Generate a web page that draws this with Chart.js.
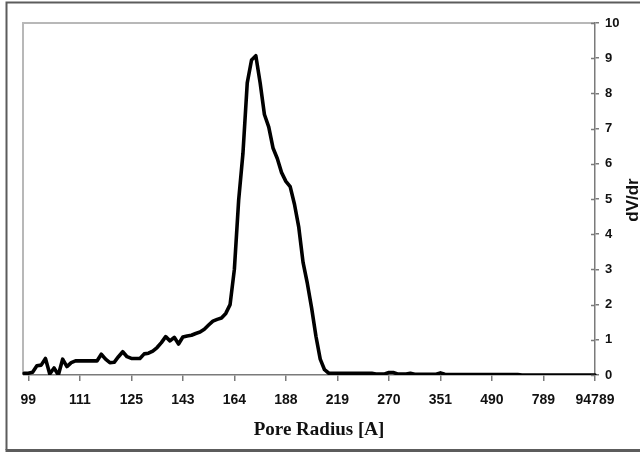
<!DOCTYPE html>
<html>
<head>
<meta charset="utf-8">
<script src="https://cdn.jsdelivr.net/npm/chart.js@4.4.1/dist/chart.umd.min.js"></script>
<style>
  html, body { margin: 0; padding: 0; background: #ffffff; }
  #wrap { width: 640px; height: 452px; position: relative; }
</style>
</head>
<body>
<div id="wrap"><canvas id="c" width="640" height="452"></canvas></div>
<script>
// Tick labels shown on the x axis (every 12th category, starting at index 1)
const tickLabels = ['99', '111', '125', '143', '164', '188', '219', '270', '351', '490', '789', '94789'];
const labelEvery = 12;
const labelStart = 1;

// dV/dr values, one per category (134 categories)
const dvdr = [
  0.05, 0.05, 0.08, 0.26, 0.28, 0.47, 0.03, 0.20, 0.00, 0.45,
  0.24, 0.35, 0.40, 0.40, 0.40, 0.40, 0.40, 0.40, 0.59, 0.45,
  0.35, 0.36, 0.52, 0.66, 0.52, 0.47, 0.47, 0.47, 0.60, 0.62,
  0.68, 0.78, 0.92, 1.09, 0.97, 1.07, 0.88, 1.08, 1.11, 1.13,
  1.18, 1.22, 1.30, 1.42, 1.53, 1.58, 1.62, 1.75, 2.00, 3.00,
  4.97, 6.30, 8.30, 8.95, 9.07, 8.30, 7.40, 7.05, 6.45, 6.15,
  5.75, 5.50, 5.35, 4.85, 4.20, 3.20, 2.60, 1.90, 1.10, 0.45,
  0.15, 0.05, 0.05, 0.05, 0.05, 0.05, 0.05, 0.05, 0.05, 0.05,
  0.05, 0.05, 0.03, 0.03, 0.03, 0.07, 0.07, 0.03, 0.03, 0.03,
  0.05, 0.02, 0.02, 0.02, 0.02, 0.02, 0.02, 0.06, 0.02, 0.01,
  0.01, 0.01, 0.01, 0.01, 0.01, 0.01, 0.01, 0.01, 0.01, 0.01,
  0.01, 0.01, 0.01, 0.01, 0.01, 0.01, 0.00, 0.00, 0.00, 0.00,
  0.00, 0.00, 0.00, 0.00, 0.00, 0.00, 0.00, 0.00, 0.00, 0.00,
  0.00, 0.00, 0.00, 0.00
];

// Category labels: only the labelled categories carry text
const categories = dvdr.map((_, i) =>
  (i - labelStart) % labelEvery === 0 ? tickLabels[(i - labelStart) / labelEvery] : '');

const yTitle = 'dV/dr';
const xTitle = 'Pore Radius [A]';

const sansFont = 'Arial, "Liberation Sans", sans-serif';
const serifFont = '"Times New Roman", "Liberation Serif", serif';
const axisGray = '#7a7a7a';

const decor = {
  id: 'decor',
  beforeDraw(chart) {
    const ctx = chart.ctx;
    const ca = chart.chartArea;
    ctx.save();
    ctx.fillStyle = '#ffffff';
    ctx.fillRect(0, 0, chart.width, chart.height);
    // outer frame
    ctx.strokeStyle = '#5c5c5c';
    ctx.lineWidth = 2;
    ctx.beginPath();
    ctx.moveTo(chart.width + 2, 2.5);
    ctx.lineTo(6.5, 2.5);
    ctx.lineTo(6.5, 450);
    ctx.stroke();
    ctx.lineWidth = 3;
    ctx.beginPath();
    ctx.moveTo(5.5, 450.5);
    ctx.lineTo(chart.width + 2, 450.5);
    ctx.stroke();
    // plot-area border (top and left)
    ctx.strokeStyle = '#b8b8b8';
    ctx.lineWidth = 2;
    ctx.beginPath();
    ctx.moveTo(ca.right, ca.top);
    ctx.lineTo(ca.left - 1, ca.top);
    ctx.lineTo(ca.left - 1, ca.bottom);
    ctx.stroke();
    ctx.restore();
  },
  afterDraw(chart) {
    const ctx = chart.ctx;
    const ys = chart.scales.y;
    const ca = chart.chartArea;
    ctx.save();
    // inward half of the y-axis tick marks
    ctx.strokeStyle = axisGray;
    ctx.lineWidth = 1.5;
    ys.ticks.forEach(t => {
      const py = Math.round(ys.getPixelForValue(t.value)) + 0.5;
      ctx.beginPath();
      ctx.moveTo(ca.right - 4, py);
      ctx.lineTo(ca.right, py);
      ctx.stroke();
    });
    // axis titles
    ctx.fillStyle = '#111111';
    ctx.font = 'bold 19px ' + serifFont;
    ctx.textAlign = 'center';
    ctx.textBaseline = 'middle';
    ctx.fillText(xTitle, 319, 430);
    ctx.translate(633, (ca.top + ca.bottom) / 2 + 1);
    ctx.rotate(-Math.PI / 2);
    ctx.font = 'bold 17px ' + sansFont;
    ctx.fillText(yTitle, 0, 0);
    ctx.restore();
  }
};

new Chart(document.getElementById('c'), {
  type: 'line',
  data: {
    labels: categories,
    datasets: [{
      data: dvdr,
      borderColor: '#000000',
      borderWidth: 3.6,
      pointRadius: 0,
      tension: 0,
      fill: false,
      borderJoinStyle: 'round',
      borderCapStyle: 'round'
    }]
  },
  options: {
    responsive: false,
    animation: false,
    devicePixelRatio: 1,
    layout: { padding: { left: 24, top: 23, right: 0, bottom: 0 } },
    plugins: { legend: { display: false }, tooltip: { enabled: false } },
    scales: {
      x: {
        type: 'category',
        offset: false,
        afterFit(scale) { scale.height = 77; },
        afterBuildTicks(scale) {
          scale.ticks = scale.ticks.filter(t => (t.value - labelStart) % labelEvery === 0);
        },
        grid: { display: true, drawOnChartArea: false, drawTicks: true, tickLength: 6, color: axisGray, lineWidth: 1.5 },
        border: { display: true, color: axisGray, width: 1.5 },
        ticks: {
          autoSkip: false,
          maxRotation: 0,
          minRotation: 0,
          padding: 11,
          color: '#111111',
          font: { family: sansFont, size: 14, weight: 'bold' }
        }
      },
      y: {
        position: 'right',
        min: 0,
        max: 10,
        afterFit(scale) { scale.width = 45; },
        grid: { display: true, drawOnChartArea: false, drawTicks: true, tickLength: 4, color: axisGray, lineWidth: 1.5 },
        border: { display: true, color: axisGray, width: 1.5 },
        ticks: {
          stepSize: 1,
          padding: 6,
          color: '#111111',
          font: { family: sansFont, size: 13, weight: 'bold' }
        }
      }
    }
  },
  plugins: [decor]
});
</script>
</body>
</html>
